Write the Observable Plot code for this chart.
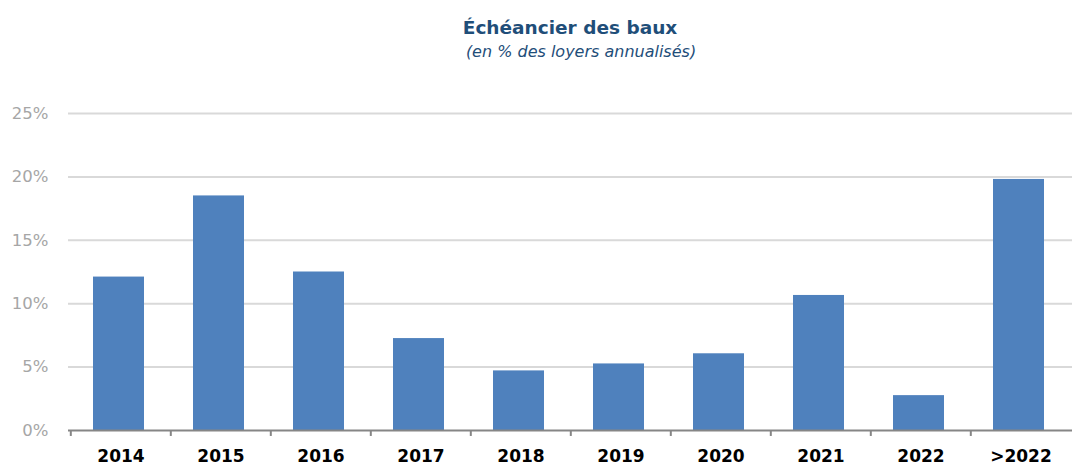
<!DOCTYPE html>
<html><head><meta charset="utf-8">
<script src="https://cdn.jsdelivr.net/npm/d3@7"></script>
<script src="https://cdn.jsdelivr.net/npm/@observablehq/plot@0.6"></script>
<style>
body{margin:0;background:#fff;font-family:"DejaVu Sans",sans-serif;}
#head{height:70px;padding-left:68px;box-sizing:border-box;text-align:center;color:#1f4e79;}
#t{font-weight:bold;font-size:18.5px;padding-top:16px;line-height:24px;}
#s{font-style:italic;font-size:16px;line-height:20px;margin-top:2px;padding-left:22px;}
</style></head>
<body>
<div id="head"><div id="t">Échéancier des baux</div><div id="s">(en % des loyers annualisés)</div></div>
<div id="chart"></div>
<script>
const categories = ["2014","2015","2016","2017","2018","2019","2020","2021","2022",">2022"];
const values = [12.1, 18.5, 12.5, 7.25, 4.7, 5.25, 6.05, 10.65, 2.75, 19.8];
const yTicks = [0, 5, 10, 15, 20, 25];
const data = categories.map((c, i) => ({cat: c, v: values[i]}));

const W = 1072, ML = 68, MR = 0;
const step = (W - ML - MR) / categories.length;

const chart = Plot.plot({
  width: W, height: 397,
  marginLeft: ML, marginRight: MR, marginTop: 43, marginBottom: 37,
  style: {fontFamily: "DejaVu Sans, sans-serif", background: "#fff", overflow: "visible"},
  x: {domain: categories, paddingInner: 0.49, paddingOuter: 0.245, align: 0.5, label: null},
  y: {domain: [0, 25], label: null},
  marks: [
    Plot.ruleY(yTicks.filter(d => d > 0), {stroke: "#d9d9d9", strokeWidth: 2}),
    Plot.barY(data, {x: "cat", y: "v", fill: "#4f81bd", dx: -2}),
    Plot.ruleY([0], {stroke: "#868686", strokeWidth: 2}),
    Plot.ruleX(categories, {x: d => d, dx: -step / 2, y1: 0, y2: -0.47, stroke: "#868686", strokeWidth: 2}),
    Plot.axisX({tickSize: 0, tickPadding: 19, fontSize: 17, fontWeight: "bold", color: "#000", label: null}),
    Plot.axisY({ticks: yTicks, tickSize: 0, tickPadding: 20, fontSize: 16.5, color: "#a6a6a6", tickFormat: d => d + "%", label: null})
  ]
});
document.getElementById("chart").appendChild(chart);
</script>
</body></html>
